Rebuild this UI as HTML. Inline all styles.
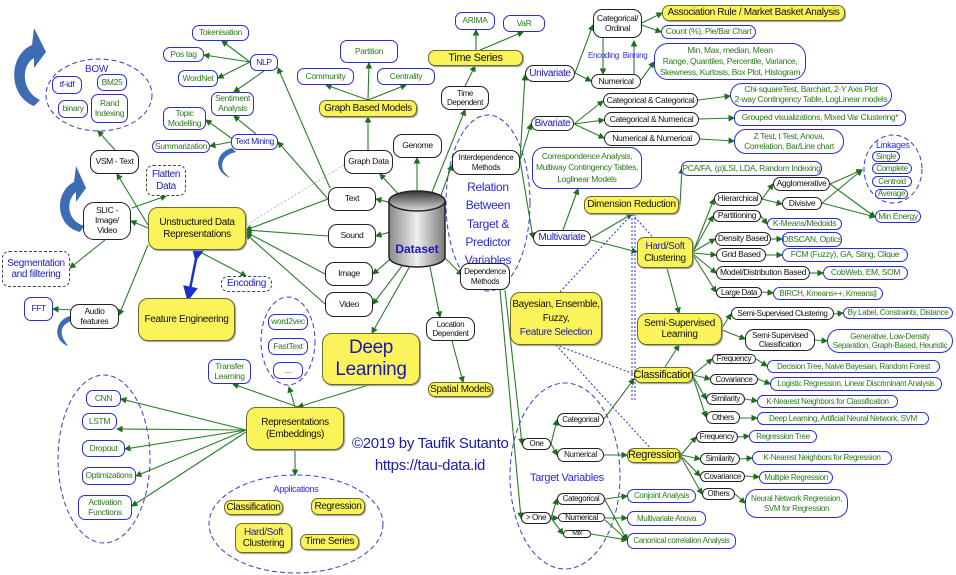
<!DOCTYPE html>
<html><head><meta charset="utf-8">
<style>
body{margin:0;background:#fff;}
#c{position:relative;width:956px;height:575px;overflow:hidden;background:#fff;}
.n{position:absolute;display:flex;align-items:center;justify-content:center;text-align:center;box-sizing:border-box;border-radius:7px;font:8.5px/1.15 "Liberation Sans Narrow","Liberation Sans",sans-serif;white-space:nowrap;background:#fff;z-index:2;letter-spacing:-0.35px;overflow:visible}
.k{border:1px solid #222;color:#111;border-radius:9px}
.u{border:1.5px solid #2b2bd6;color:#2a7a1e}
.y{background:#fbf35a;border:1.5px solid #6a6a2a;color:#111;box-shadow:1px 1px 1px #999;font-size:10px}
.d{border:1px dashed #444;color:#2020c0}
.t{position:absolute;font:9px/1.2 "Liberation Sans Narrow","Liberation Sans",sans-serif;color:#2b2bd6;z-index:2;white-space:nowrap;text-align:center;letter-spacing:-0.3px}
svg{position:absolute;left:0;top:0;z-index:1}
</style></head><body><div id="c">
<svg width="956" height="575" viewBox="0 0 956 575">
<defs>
<marker id="a" markerWidth="6" markerHeight="6" refX="5" refY="3" orient="auto"><path d="M0,0 L6,3 L0,6z" fill="#1d6e1d"/></marker>
<marker id="b" markerWidth="6" markerHeight="6" refX="3" refY="3" orient="auto"><path d="M0,0 L6,3 L0,6z" fill="#1a2fd0"/></marker>
<linearGradient id="g" x1="0" y1="0" x2="1" y2="0"><stop offset="0" stop-color="#8a8a8a"/><stop offset=".5" stop-color="#eeeeee"/><stop offset="1" stop-color="#7a7a7a"/></linearGradient>
<linearGradient id="g2" x1="0" y1="0" x2="0" y2="1"><stop offset="0" stop-color="#333"/><stop offset="1" stop-color="#ddd"/></linearGradient>
</defs>
<g fill="none" stroke="#3a3ad0" stroke-dasharray="5,3" stroke-width="1">
<ellipse cx="99" cy="95" rx="53" ry="36"/>
<ellipse cx="488" cy="203" rx="42" ry="88"/>
<ellipse cx="288" cy="341" rx="27" ry="44"/>
<ellipse cx="104" cy="459" rx="46" ry="84"/>
<ellipse cx="296" cy="524" rx="87" ry="49"/>
<ellipse cx="565" cy="476" rx="55" ry="93"/>
<ellipse cx="893" cy="169" rx="29" ry="34"/>
</g>
<g fill="#3c6db3">
<path d="M34,106 C8,96 8,55 32,45 L34,28 L46,52 L34,68 L34,58 C20,66 22,92 40,100 Z"/>
<path d="M80,232 C55,226 54,192 74,182 L76,166 L86,188 L76,202 L76,192 C66,200 66,220 84,226 Z"/>
<path d="M232,148 C216,152 212,170 230,178 L224,172 C220,165 222,155 236,152 Z"/>
<path d="M70,316 C55,320 52,340 68,346 L64,340 C60,333 60,324 74,320 Z"/>
</g>
<g stroke="#2a7d2a" stroke-width="1.1" fill="none" marker-end="url(#a)">
<path d="M400,205 L376,199"/><path d="M390,232 L376,236"/><path d="M395,255 L373,274"/><path d="M405,262 L373,304"/>
<path d="M400,196 L380,174"/><path d="M417,190 L417,158"/>
<path d="M440,198 L452,165"/><path d="M432,192 L465,110"/><path d="M444,257 L462,275"/>
<path d="M430,267 L440,317"/><path d="M410,266 L372,333"/>
<path d="M328,199 L246,230"/><path d="M328,236 L246,230"/><path d="M325,274 L246,232"/><path d="M325,304 L246,234"/>
<path d="M328,199 L278,142"/><path d="M330,188 L278,68"/>
<path d="M368,150 L368,117"/><path d="M368,100 L326,85"/><path d="M368,100 L369,63"/><path d="M368,100 L406,85"/>
<path d="M465,86 L475,66"/><path d="M476,50 L476,30"/><path d="M480,50 L523,32"/>
<path d="M250,62 L222,41"/><path d="M250,62 L204,55"/><path d="M250,62 L218,78"/><path d="M264,71 L234,92"/>
<path d="M256,134 L234,116"/><path d="M234,140 L206,120"/><path d="M231,142 L210,146"/>
<path d="M148,225 L117,174"/><path d="M148,228 L131,221"/><path d="M132,208 L166,196"/><path d="M148,245 L119,315"/><path d="M200,252 L246,276"/>
<path d="M105,240 L70,268"/><path d="M75,310 L53,309"/><path d="M115,150 L98,131"/>
<path d="M372,384 L298,407"/><path d="M298,407 L233,384"/><path d="M295,407 L289,387"/>
<path d="M246,430 L121,399"/><path d="M246,430 L117,429"/><path d="M246,430 L125,449"/><path d="M246,430 L136,476"/><path d="M246,432 L132,506"/>
<path d="M295,450 L295,475"/><path d="M452,341 L463,382"/>
<path d="M520,160 L525,75"/><path d="M520,160 L531,124"/><path d="M520,160 L533,238"/>
<path d="M505,290 L522,444"/><path d="M500,290 L521,518"/>
<path d="M575,73 L593,25"/><path d="M575,73 L591,81"/><path d="M642,23 L662,13"/><path d="M642,25 L661,32"/><path d="M641,80 L654,62"/>
<path d="M603,38 L603,74"/><path d="M634,74 L634,41"/>
<path d="M574,124 L603,101"/><path d="M574,124 L604,120"/><path d="M574,124 L604,138"/>
<path d="M698,100 L730,96"/><path d="M699,119 L734,118"/><path d="M700,139 L734,141"/>
<path d="M563,230 L578,189"/><path d="M591,238 L632,214"/><path d="M591,240 L637,252"/><path d="M680,205 L682,168"/>
<path d="M693,252 L714,199"/><path d="M693,252 L713,216"/><path d="M693,252 L715,239"/><path d="M693,253 L716,255"/><path d="M693,254 L716,273"/><path d="M693,255 L716,292"/><path d="M667,268 L679,313"/>
<path d="M762,199 L773,184"/><path d="M762,199 L782,204"/><path d="M830,184 L862,170"/><path d="M822,203 L862,170"/><path d="M830,184 L875,217"/><path d="M822,203 L875,217"/>
<path d="M761,216 L767,224"/><path d="M771,239 L782,239"/><path d="M766,255 L782,255"/><path d="M810,273 L823,273"/><path d="M762,292 L773,293"/>
<path d="M722,328 L731,314"/><path d="M722,330 L745,339"/><path d="M834,314 L843,313"/><path d="M815,340 L827,341"/>
<path d="M665,367 L679,345"/><path d="M693,375 L712,359"/><path d="M693,375 L710,379"/><path d="M693,376 L706,399"/><path d="M693,377 L706,417"/>
<path d="M756,359 L767,366"/><path d="M758,379 L770,384"/><path d="M745,399 L757,401"/><path d="M740,418 L757,418"/>
<path d="M551,444 L557,420"/><path d="M551,444 L557,455"/><path d="M604,419 L634,379"/><path d="M604,455 L627,455"/>
<path d="M681,455 L696,437"/><path d="M681,455 L700,459"/><path d="M681,456 L700,476"/><path d="M681,457 L702,494"/>
<path d="M738,437 L749,436"/><path d="M740,459 L752,458"/><path d="M745,476 L759,477"/><path d="M735,494 L745,503"/>
<path d="M551,518 L557,499"/><path d="M551,518 L558,518"/><path d="M551,518 L563,534"/>
<path d="M605,499 L627,496"/><path d="M605,518 L627,518"/><path d="M605,500 L627,540"/><path d="M605,520 L627,540"/><path d="M591,534 L627,540"/>
</g>
<path d="M344,165 L246,225" stroke="#aaa" stroke-width="0.8" stroke-dasharray="2,2" fill="none"/>
<g stroke="#2a2ad0" stroke-width="1" stroke-dasharray="2,2" fill="none">
<path d="M632,214 L632,400"/><path d="M635,214 L635,400"/><path d="M632,214 L660,245"/><path d="M632,214 L560,292"/>
<path d="M556,345 L634,374"/><path d="M556,345 L652,450"/>
</g>
<path d="M197,254 L189,294" stroke="#1a2fd0" stroke-width="2.5" marker-end="url(#b)" marker-start="url(#b)"/>
<path d="M389,201 L389,257 A28,10 0 0 0 445,257 L445,201" fill="url(#g)" stroke="#222" stroke-width="1.5"/>
<ellipse cx="417" cy="201" rx="28" ry="10" fill="url(#g2)" stroke="#222" stroke-width="1.5"/>
<text x="417" y="253" font-family="Liberation Sans" font-size="12" font-weight="bold" fill="#1a1ab0" text-anchor="middle">Dataset</text>
</svg>

<div class="n u" style="left:192px;top:25px;width:57px;height:16px">Tokenisation</div>
<div class="n u" style="left:163px;top:47px;width:41px;height:15px">Pos tag</div>
<div class="n u" style="left:178px;top:70px;width:40px;height:17px">WordNet</div>
<div class="n u" style="left:250px;top:54px;width:28px;height:17px;color:#1a1ab0">NLP</div>
<div class="n u" style="left:211px;top:92px;width:43px;height:24px">Sentiment<br>Analysis</div>
<div class="n u" style="left:163px;top:107px;width:43px;height:23px">Topic<br>Modelling</div>
<div class="n u" style="left:152px;top:140px;width:58px;height:13px">Summarization</div>
<div class="n u" style="left:231px;top:134px;width:47px;height:16px;color:#1a1ab0">Text Mining</div>
<div class="t" style="left:85px;top:64px;font-size:10px">BOW</div>
<div class="n u" style="left:52px;top:76px;width:30px;height:18px;color:#1a1ab0">tf-idf</div>
<div class="n u" style="left:97px;top:74px;width:30px;height:17px">BM25</div>
<div class="n u" style="left:58px;top:100px;width:30px;height:18px">binary</div>
<div class="n u" style="left:91px;top:94px;width:37px;height:29px">Rand<br>Indexing</div>
<div class="n k" style="left:90px;top:150px;width:49px;height:24px">VSM - Text</div>
<div class="n d" style="left:146px;top:165px;width:40px;height:31px;font-size:10px">Flatten<br>Data</div>
<div class="n k" style="left:83px;top:202px;width:48px;height:38px;border-radius:11px">SLIC -<br>Image/<br>Video</div>
<div class="n y" style="left:148px;top:207px;width:98px;height:43px;border-radius:10px">Unstructured Data<br>Representations</div>
<div class="n d" style="left:2px;top:251px;width:68px;height:36px;font-size:10px">Segmentation<br>and filltering</div>
<div class="n d" style="left:221px;top:276px;width:51px;height:16px;font-size:10px">Encoding</div>
<div class="n y" style="left:138px;top:298px;width:97px;height:43px;border-radius:10px">Feature Engineering</div>
<div class="n k" style="left:70px;top:304px;width:49px;height:25px">Audio<br>features</div>
<div class="n u" style="left:24px;top:297px;width:29px;height:24px;color:#1a1ab0">FFT</div>
<div class="n k" style="left:344px;top:150px;width:49px;height:24px">Graph Data</div>
<div class="n k" style="left:393px;top:134px;width:49px;height:24px">Genome</div>
<div class="n y" style="left:319px;top:100px;width:98px;height:17px">Graph Based Models</div>
<div class="n u" style="left:297px;top:68px;width:57px;height:17px">Community</div>
<div class="n u" style="left:340px;top:40px;width:58px;height:23px">Partition</div>
<div class="n u" style="left:377px;top:68px;width:58px;height:17px">Centrality</div>
<div class="n k" style="left:328px;top:187px;width:48px;height:24px">Text</div>
<div class="n k" style="left:328px;top:224px;width:48px;height:24px">Sound</div>
<div class="n k" style="left:325px;top:262px;width:48px;height:24px">Image</div>
<div class="n k" style="left:325px;top:292px;width:48px;height:25px">Video</div>
<div class="n y" style="left:428px;top:50px;width:95px;height:16px;font-size:11px">Time Series</div>
<div class="n u" style="left:455px;top:12px;width:40px;height:18px">ARIMA</div>
<div class="n u" style="left:503px;top:15px;width:42px;height:17px">VaR</div>
<div class="n k" style="left:441px;top:86px;width:48px;height:24px;font-size:8px">Time<br>Dependent</div>
<div class="n k" style="left:452px;top:150px;width:68px;height:25px;font-size:8px">Interdependence<br>Methods</div>
<div class="t" style="left:458px;top:178px;width:60px;font-size:12px;line-height:18.3px">Relation<br>Between<br>Target &amp;<br>Predictor<br>Variables</div>
<div class="n k" style="left:460px;top:263px;width:50px;height:27px;font-size:8px">Dependence<br>Methods</div>
<div class="n k" style="left:426px;top:317px;width:49px;height:24px;font-size:8px">Location<br>Dependent</div>
<div class="n y" style="left:428px;top:382px;width:65px;height:15px">Spatial Models</div>
<div class="n y" style="left:322px;top:333px;width:98px;height:52px;color:#1a1ab0;font:19px/1.15 'Liberation Sans Narrow','Liberation Sans',sans-serif;border-radius:10px">Deep<br>Learning</div>
<div class="n u" style="left:268px;top:314px;width:40px;height:16px">word2vec</div>
<div class="n u" style="left:268px;top:338px;width:40px;height:17px">FastText</div>
<div class="n u" style="left:273px;top:362px;width:30px;height:17px">....</div>
<div class="n u" style="left:208px;top:359px;width:43px;height:25px">Transfer<br>Learning</div>
<div class="n y" style="left:246px;top:407px;width:98px;height:43px;border-radius:10px">Representations<br>(Embeddings)</div>
<div class="n u" style="left:86px;top:390px;width:35px;height:17px">CNN</div>
<div class="n u" style="left:82px;top:413px;width:35px;height:17px">LSTM</div>
<div class="n u" style="left:82px;top:440px;width:43px;height:17px">Dropout</div>
<div class="n u" style="left:82px;top:467px;width:54px;height:18px">Optimizations</div>
<div class="n u" style="left:78px;top:495px;width:54px;height:25px">Activation<br>Functions</div>
<div class="t" style="left:270px;top:484px;width:52px">Applications</div>
<div class="n y" style="left:224px;top:500px;width:59px;height:15px">Classification</div>
<div class="n y" style="left:311px;top:498px;width:54px;height:17px">Regression</div>
<div class="n y" style="left:235px;top:523px;width:57px;height:30px"><span><span style="color:#1a1ab0">Hard/Soft</span><br>Clustering</span></div>
<div class="n y" style="left:300px;top:534px;width:59px;height:16px">Time Series</div>
<div class="t" style="left:352px;top:433px;font:15px/1.45 'Liberation Sans Narrow','Liberation Sans',sans-serif;color:#1a1ab0;width:156px;letter-spacing:-0.3px">©2019 by Taufik Sutanto<br>https://tau-data.id</div>

<div class="n k" style="left:593px;top:9px;width:49px;height:29px">Categorical/<br>Ordinal</div>
<div class="n y" style="left:662px;top:5px;width:183px;height:16px">Association Rule / Market Basket Analysis</div>
<div class="n u" style="left:661px;top:25px;width:95px;height:14px">Count (%), Pie/Bar Chart</div>
<div class="t" style="left:588px;top:51px;font-size:8px">Encoding&nbsp;&nbsp;Binning</div>
<div class="n k" style="left:525px;top:65px;width:50px;height:17px;color:#1a1ab0;font-size:10px">Univariate</div>
<div class="n k" style="left:591px;top:74px;width:50px;height:15px">Numerical</div>
<div class="n u" style="left:654px;top:43px;width:152px;height:37px;line-height:1.3;border-radius:14px">Min, Max, median, Mean<br>Range, Quantiles, Percentile, Variance,<br>Skewness, Kurtosis, Box Plot, Histogram</div>
<div class="n k" style="left:531px;top:116px;width:43px;height:15px;color:#1a1ab0;font-size:10px">Bivariate</div>
<div class="n k" style="left:603px;top:93px;width:95px;height:15px">Categorical &amp; Categorical</div>
<div class="n k" style="left:604px;top:112px;width:95px;height:15px">Categorical &amp; Numerical</div>
<div class="n k" style="left:604px;top:131px;width:96px;height:15px">Numerical &amp; Numerical</div>
<div class="n u" style="left:730px;top:83px;width:162px;height:24px;border-radius:12px">Chi-squareTest, Barchart, 2-Y Axis Plot<br>2-way Contingency Table, LogLinear models</div>
<div class="n u" style="left:734px;top:110px;width:172px;height:16px">Grouped visualizations, Mixed Var Clustering*</div>
<div class="n u" style="left:734px;top:129px;width:110px;height:25px;border-radius:12px">Z Test, t Test, Anova,<br>Correlation, Bar/Line chart</div>
<div class="n u" style="left:532px;top:147px;width:110px;height:42px;line-height:1.3;border-radius:12px">Correspondence Analysis,<br>Multiway Contingency Tables,<br>Loglinear Models</div>
<div class="n k" style="left:533px;top:230px;width:58px;height:16px;color:#1a1ab0;font-size:10px">Multivariate</div>
<div class="n y" style="left:584px;top:196px;width:95px;height:18px">Dimension Reduction</div>
<div class="n u" style="left:681px;top:161px;width:141px;height:15px">PCA/FA, (p)LSI, LDA, Random Indexing</div>
<div class="n y" style="left:637px;top:237px;width:56px;height:31px"><span><span style="color:#1a1ab0">Hard/Soft</span><br>Clustering</span></div>
<div class="n k" style="left:714px;top:192px;width:48px;height:14px">Hierarchical</div>
<div class="n k" style="left:773px;top:177px;width:57px;height:14px">Agglomerative</div>
<div class="n k" style="left:782px;top:197px;width:40px;height:13px">Divisive</div>
<div class="t" style="left:876px;top:140px;font-size:9px">Linkages</div>
<div class="n u" style="left:872px;top:151px;width:28px;height:11px;font-size:8px">Single</div>
<div class="n u" style="left:872px;top:163px;width:40px;height:11px;font-size:8px">Complete</div>
<div class="n u" style="left:872px;top:176px;width:40px;height:11px;font-size:8px">Centroid</div>
<div class="n u" style="left:875px;top:189px;width:33px;height:10px;font-size:8px">Average</div>
<div class="n u" style="left:875px;top:210px;width:46px;height:13px">Min Energy</div>
<div class="n k" style="left:713px;top:210px;width:48px;height:12px">Partitioning</div>
<div class="n u" style="left:767px;top:218px;width:75px;height:12px">K-Means/Medoids</div>
<div class="n k" style="left:715px;top:232px;width:56px;height:14px">Density Based</div>
<div class="n u" style="left:782px;top:232px;width:60px;height:15px">DBSCAN, Optics</div>
<div class="n k" style="left:716px;top:248px;width:50px;height:14px">Grid Based</div>
<div class="n u" style="left:782px;top:248px;width:126px;height:14px">FCM (Fuzzy), GA, Sting, Clique</div>
<div class="n k" style="left:716px;top:266px;width:94px;height:14px">Model/Distribution Based</div>
<div class="n u" style="left:823px;top:266px;width:85px;height:14px">CobWeb, EM, SOM</div>
<div class="n k" style="left:716px;top:287px;width:46px;height:11px;font-size:8px">Large Data</div>
<div class="n u" style="left:773px;top:287px;width:110px;height:13px;font-size:8px">BIRCH, Kmeans++, Kmeans||</div>
<div class="n y" style="left:637px;top:313px;width:85px;height:32px;border-radius:10px">Semi-Supervised<br>Learning</div>
<div class="n k" style="left:731px;top:307px;width:103px;height:13px;font-size:8px">Semi-Supervised Clustering</div>
<div class="n u" style="left:843px;top:307px;width:110px;height:12px;font-size:8px">By Label, Constraints, Distance</div>
<div class="n k" style="left:745px;top:329px;width:70px;height:22px;font-size:8px">Semi-Supervised<br>Classification</div>
<div class="n u" style="left:827px;top:329px;width:126px;height:24px;font-size:8px;border-radius:12px">Generative, Low-Density<br>Separation, Graph-Based, Heuristic</div>
<div class="n y" style="left:510px;top:292px;width:92px;height:53px;line-height:1.4;border-radius:10px"><span>Bayesian, Ensemble,<br>Fuzzy,<br><span style="color:#1a1ab0">Feature Selection</span></span></div>
<div class="n y" style="left:634px;top:367px;width:59px;height:16px;font-size:11px">Classification</div>
<div class="n k" style="left:712px;top:354px;width:44px;height:10px;font-size:8px">Frequency</div>
<div class="n u" style="left:767px;top:360px;width:173px;height:13px;font-size:8px">Decision Tree, Naive Bayesian, Random Forest</div>
<div class="n k" style="left:710px;top:374px;width:48px;height:11px;font-size:8px">Covariance</div>
<div class="n u" style="left:770px;top:377px;width:172px;height:14px;font-size:8px">Logistic Regression, Linear Discriminant Analysis</div>
<div class="n k" style="left:706px;top:393px;width:39px;height:12px;font-size:8px">Similarity</div>
<div class="n u" style="left:757px;top:395px;width:141px;height:13px;font-size:8px">K-Nearest Neighbors for Classification</div>
<div class="n k" style="left:706px;top:411px;width:34px;height:13px;font-size:8px">Others</div>
<div class="n u" style="left:757px;top:412px;width:172px;height:13px;font-size:8px">Deep Learning, Artificial Neural Network, SVM</div>
<div class="t" style="left:530px;top:472px;font-size:11px">Target Variables</div>
<div class="n k" style="left:522px;top:438px;width:29px;height:12px;font-size:8px">One</div>
<div class="n k" style="left:557px;top:413px;width:47px;height:14px;font-size:8px">Categorical</div>
<div class="n k" style="left:557px;top:448px;width:47px;height:14px;font-size:8px">Numerical</div>
<div class="n y" style="left:627px;top:448px;width:54px;height:15px;font-size:11px">Regression</div>
<div class="n k" style="left:696px;top:431px;width:42px;height:12px;font-size:8px">Frequency</div>
<div class="n u" style="left:749px;top:430px;width:68px;height:13px;font-size:8px">Regression Tree</div>
<div class="n k" style="left:700px;top:453px;width:40px;height:12px;font-size:8px">Similarity</div>
<div class="n u" style="left:752px;top:451px;width:140px;height:14px;font-size:8px">K-Nearest Neighbors for Regression</div>
<div class="n k" style="left:700px;top:471px;width:45px;height:11px;font-size:8px">Covariance</div>
<div class="n u" style="left:759px;top:471px;width:74px;height:13px;font-size:8px">Multiple Regression</div>
<div class="n k" style="left:702px;top:488px;width:33px;height:12px;font-size:8px">Others</div>
<div class="n u" style="left:745px;top:489px;width:103px;height:29px;font-size:8px;border-radius:12px">Neural Network Regression,<br>SVM for Regression</div>
<div class="n k" style="left:521px;top:512px;width:30px;height:12px;font-size:8px">&gt; One</div>
<div class="n k" style="left:557px;top:493px;width:48px;height:12px;font-size:8px">Categorical</div>
<div class="n k" style="left:558px;top:513px;width:47px;height:9px;font-size:8px">Numerical</div>
<div class="n k" style="left:563px;top:530px;width:28px;height:8px;font-size:7px">Mix</div>
<div class="n u" style="left:627px;top:489px;width:69px;height:14px;font-size:8px">Conjoint Analysis</div>
<div class="n u" style="left:627px;top:511px;width:79px;height:15px;font-size:8px">Multivariate Anova</div>
<div class="n u" style="left:627px;top:533px;width:109px;height:16px;font-size:8px">Canonical correlation Analysis</div>
</div></body></html>
